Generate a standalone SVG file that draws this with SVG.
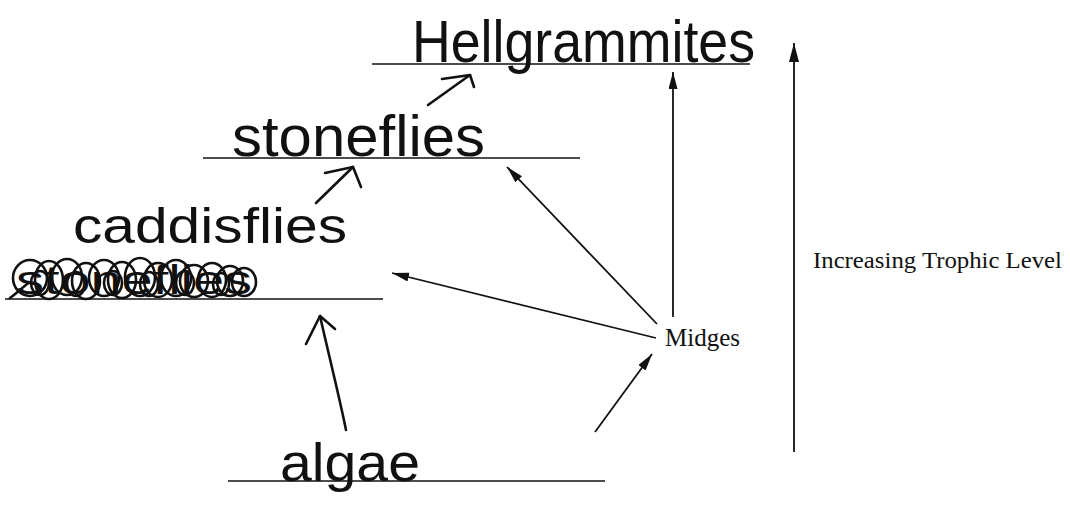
<svg xmlns="http://www.w3.org/2000/svg" width="1070" height="518" viewBox="0 0 1070 518">
  <style>
    .hand { font-family: "Liberation Sans", "DejaVu Sans", sans-serif; fill: #111; }
    .print { font-family: "Liberation Serif", "Times New Roman", serif; fill: #111; }
    .level { stroke: #111; stroke-width: 1.6; fill: none; }
    .conn { stroke: #111; stroke-width: 1.8; fill: none; }
    .pen { stroke: #111; stroke-width: 2.6; fill: none; stroke-linecap: round; stroke-linejoin: round; }
  </style>
  <defs>
    <marker id="head" markerUnits="userSpaceOnUse" markerWidth="18" markerHeight="10" refX="17" refY="4.5" orient="auto">
      <path d="M0,0 L17,4.5 L0,9 Z" fill="#111"/>
    </marker>
    <marker id="headBig" markerUnits="userSpaceOnUse" markerWidth="20" markerHeight="11" refX="19" refY="5" orient="auto">
      <path d="M0,0 L19,5 L0,10 Z" fill="#111"/>
    </marker>
  </defs>
  <rect width="1070" height="518" fill="#fff"/>

  <g id="node-hellgrammites">
    <line class="level" x1="372" y1="64" x2="750" y2="64"/>
    <text class="hand" x="412" y="62" font-size="60" textLength="343" lengthAdjust="spacingAndGlyphs">Hellgrammites</text>
  </g>

  <g id="node-stoneflies">
    <line class="level" x1="203" y1="158" x2="580" y2="158"/>
    <text class="hand" x="232" y="156" font-size="58" textLength="253" lengthAdjust="spacingAndGlyphs">stoneflies</text>
  </g>

  <g id="node-caddisflies">
    <line class="level" x1="5" y1="299" x2="383" y2="299"/>
    <text class="hand" x="73" y="243" font-size="50" textLength="274" lengthAdjust="spacingAndGlyphs">caddisflies</text>
    <text class="hand" x="16" y="294" font-size="40" textLength="236" lengthAdjust="spacingAndGlyphs">stoneflies</text>
    <g class="pen" stroke-width="2.4">
      <path d="M10,298 C18,292 24,286 30,282"/>
      <ellipse cx="30" cy="278" rx="17" ry="18"/>
      <ellipse cx="49" cy="280" rx="14" ry="19"/>
      <ellipse cx="67" cy="277" rx="15" ry="18"/>
      <ellipse cx="86" cy="281" rx="14" ry="18"/>
      <ellipse cx="104" cy="278" rx="15" ry="18"/>
      <ellipse cx="122" cy="280" rx="14" ry="18"/>
      <ellipse cx="140" cy="277" rx="15" ry="19"/>
      <ellipse cx="158" cy="280" rx="14" ry="17"/>
      <ellipse cx="176" cy="278" rx="15" ry="18"/>
      <ellipse cx="194" cy="281" rx="14" ry="16"/>
      <ellipse cx="212" cy="280" rx="14" ry="17"/>
      <ellipse cx="230" cy="281" rx="13" ry="15"/>
      <ellipse cx="244" cy="282" rx="12" ry="14"/>
      <ellipse cx="40" cy="283" rx="9" ry="12"/>
      <ellipse cx="76" cy="284" rx="9" ry="12"/>
      <ellipse cx="113" cy="283" rx="9" ry="12"/>
      <ellipse cx="149" cy="284" rx="9" ry="12"/>
      <ellipse cx="185" cy="283" rx="9" ry="12"/>
      <ellipse cx="221" cy="284" rx="8" ry="11"/>
    </g>
  </g>

  <g id="node-algae">
    <line class="level" x1="228" y1="481" x2="605" y2="481"/>
    <text class="hand" x="280" y="481" font-size="54" textLength="140" lengthAdjust="spacingAndGlyphs">algae</text>
  </g>

  <g id="node-midges">
    <text class="print" x="665" y="346" font-size="25">Midges</text>
  </g>

  <g id="node-axis">
    <text class="print" x="813" y="268" font-size="24" textLength="249" lengthAdjust="spacingAndGlyphs">Increasing Trophic Level</text>
  </g>

  <g id="connectors">
    <line class="conn" x1="794" y1="452" x2="794" y2="43" marker-end="url(#headBig)"/>
    <line class="conn" x1="673" y1="317" x2="673" y2="72" marker-end="url(#head)"/>
    <line class="conn" x1="657" y1="324" x2="507" y2="167" marker-end="url(#head)"/>
    <line class="conn" x1="656" y1="338" x2="392" y2="273" marker-end="url(#head)"/>
    <line class="conn" x1="595" y1="432" x2="652" y2="354" marker-end="url(#head)"/>
    <g class="pen">
      <path d="M346,430 C340,400 330,360 320,316"/>
      <path d="M306,344 L320,316 L335,329"/>
      <path d="M316,203 L353,167"/>
      <path d="M325,173 L353,167 L361,187"/>
      <path d="M428,105 L470,75"/>
      <path d="M442,79 L470,75 L474,87"/>
    </g>
  </g>
</svg>
